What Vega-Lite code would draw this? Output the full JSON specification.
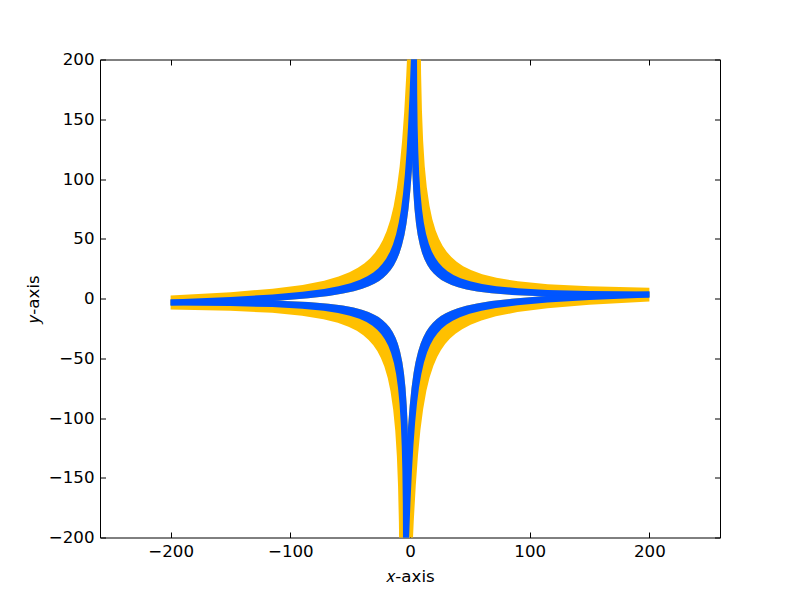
{
  "$schema": "https://vega.github.io/schema/vega-lite/v6.json",
  "width": 620,
  "height": 478,
  "autosize": {"type": "none"},
  "padding": {"left": 100, "top": 59.5, "right": 80, "bottom": 59.5},
  "background": "white",
  "config": {
    "view": {"stroke": null},
    "axis": {
      "grid": false, "domain": true, "domainColor": "black", "domainWidth": 1,
      "tickColor": "black", "tickWidth": 1, "tickSize": -5.5,
      "labelFont": "DejaVu Sans", "labelFontSize": 16.67, "labelColor": "black",
      "titleFont": "DejaVu Sans", "titleFontSize": 16.67, "titleFontWeight": "normal", "titleColor": "black",
      "zindex": 1
    }
  },
  "data": {
    "values": [
      {"p":"URo","x":200,"y":9.1},{"p":"URo","x":150.13,"y":10.21},{"p":"URo","x":115.17,"y":11.98},{"p":"URo","x":90.21,"y":14.37},{"p":"URo","x":72.27,"y":17.3},{"p":"URo","x":60.32,"y":20.32},{"p":"URo","x":51.38,"y":23.59},{"p":"URo","x":44.44,"y":27.09},{"p":"URo","x":39,"y":30.77},{"p":"URo","x":34.56,"y":34.68},{"p":"URo","x":30.64,"y":39.16},{"p":"URo","x":27.22,"y":44.21},{"p":"URo","x":24.31,"y":49.75},{"p":"URo","x":21.43,"y":56.92},{"p":"URo","x":18.59,"y":66.58},{"p":"URo","x":16.28,"y":77.58},{"p":"URo","x":14.03,"y":93.01},{"p":"URo","x":12.32,"y":110.65},{"p":"URo","x":10.97,"y":131.96},{"p":"URo","x":9.99,"y":156.88},{"p":"URo","x":9.29,"y":187.2},{"p":"URo","x":8.94,"y":214.9},{"p":"URo","x":8.75,"y":260.75},
      {"p":"URo","x":1.08,"y":259.71},{"p":"URo","x":0.81,"y":200.82},{"p":"URo","x":0.93,"y":159.52},{"p":"URo","x":1.33,"y":129.19},{"p":"URo","x":1.95,"y":106.34},{"p":"URo","x":2.69,"y":90.12},{"p":"URo","x":3.74,"y":74.95},{"p":"URo","x":5.03,"y":62.51},{"p":"URo","x":6.38,"y":53.41},{"p":"URo","x":8.23,"y":44.5},{"p":"URo","x":10.12,"y":37.94},{"p":"URo","x":12.04,"y":32.92},{"p":"URo","x":14.46,"y":28.08},{"p":"URo","x":16.9,"y":24.35},{"p":"URo","x":19.84,"y":20.85},{"p":"URo","x":22.79,"y":18.11},{"p":"URo","x":26.25,"y":15.58},{"p":"URo","x":30.21,"y":13.31},{"p":"URo","x":34.68,"y":11.31},{"p":"URo","x":40.14,"y":9.42},{"p":"URo","x":47.11,"y":7.62},{"p":"URo","x":56.08,"y":5.94},{"p":"URo","x":68.05,"y":4.39},{"p":"URo","x":85.03,"y":2.99},{"p":"URo","x":110,"y":1.83},{"p":"URo","x":149.98,"y":1.02},{"p":"URo","x":200,"y":0.81},

      {"p":"ULo","x":-200,"y":2.5},{"p":"ULo","x":-149.87,"y":5.26},{"p":"ULo","x":-114.83,"y":8.19},{"p":"ULo","x":-89.79,"y":11.4},{"p":"ULo","x":-71.73,"y":14.92},{"p":"ULo","x":-59.68,"y":18.34},{"p":"ULo","x":-50.62,"y":21.9},{"p":"ULo","x":-43.56,"y":25.64},{"p":"ULo","x":-38,"y":29.5},{"p":"ULo","x":-33.44,"y":33.56},{"p":"ULo","x":-29.36,"y":38.17},{"p":"ULo","x":-25.78,"y":43.34},{"p":"ULo","x":-22.69,"y":48.97},{"p":"ULo","x":-19.57,"y":56.25},{"p":"ULo","x":-16.41,"y":66},{"p":"ULo","x":-13.72,"y":77.09},{"p":"ULo","x":-10.97,"y":92.59},{"p":"ULo","x":-8.68,"y":110.3},{"p":"ULo","x":-6.63,"y":131.67},{"p":"ULo","x":-4.81,"y":156.64},{"p":"ULo","x":-3.11,"y":187},{"p":"ULo","x":-1.86,"y":214.73},{"p":"ULo","x":-0.15,"y":260.6},
      {"p":"ULo","x":7.5,"y":259.81},{"p":"ULo","x":5.81,"y":200.9},{"p":"ULo","x":4.33,"y":159.58},{"p":"ULo","x":2.93,"y":129.21},{"p":"ULo","x":1.55,"y":106.33},{"p":"ULo","x":0.29,"y":90.08},{"p":"ULo","x":-1.26,"y":74.87},{"p":"ULo","x":-2.97,"y":62.38},{"p":"ULo","x":-4.62,"y":53.23},{"p":"ULo","x":-6.77,"y":44.25},{"p":"ULo","x":-8.88,"y":37.63},{"p":"ULo","x":-10.96,"y":32.54},{"p":"ULo","x":-13.54,"y":27.62},{"p":"ULo","x":-16.1,"y":23.8},{"p":"ULo","x":-19.16,"y":20.21},{"p":"ULo","x":-22.21,"y":17.37},{"p":"ULo","x":-25.75,"y":14.72},{"p":"ULo","x":-29.79,"y":12.32},{"p":"ULo","x":-34.32,"y":10.17},{"p":"ULo","x":-39.86,"y":8.1},{"p":"ULo","x":-46.89,"y":6.07},{"p":"ULo","x":-55.92,"y":4.09},{"p":"ULo","x":-67.95,"y":2.15},{"p":"ULo","x":-84.97,"y":0.19},{"p":"ULo","x":-110,"y":-1.8},{"p":"ULo","x":-150.02,"y":-3.93},{"p":"ULo","x":-200,"y":-5.79},

      {"p":"LLo","x":-200,"y":-9.1},{"p":"LLo","x":-150.13,"y":-10.21},{"p":"LLo","x":-115.17,"y":-11.98},{"p":"LLo","x":-90.21,"y":-14.37},{"p":"LLo","x":-72.27,"y":-17.3},{"p":"LLo","x":-60.32,"y":-20.32},{"p":"LLo","x":-51.38,"y":-23.59},{"p":"LLo","x":-44.44,"y":-27.09},{"p":"LLo","x":-39,"y":-30.77},{"p":"LLo","x":-34.56,"y":-34.68},{"p":"LLo","x":-30.64,"y":-39.16},{"p":"LLo","x":-27.22,"y":-44.21},{"p":"LLo","x":-24.31,"y":-49.75},{"p":"LLo","x":-21.43,"y":-56.92},{"p":"LLo","x":-18.59,"y":-66.58},{"p":"LLo","x":-16.28,"y":-77.58},{"p":"LLo","x":-14.03,"y":-93.01},{"p":"LLo","x":-12.32,"y":-110.65},{"p":"LLo","x":-10.97,"y":-131.96},{"p":"LLo","x":-9.99,"y":-156.88},{"p":"LLo","x":-9.29,"y":-187.2},{"p":"LLo","x":-8.94,"y":-214.9},{"p":"LLo","x":-8.75,"y":-260.75},
      {"p":"LLo","x":-1.08,"y":-259.71},{"p":"LLo","x":-0.81,"y":-200.82},{"p":"LLo","x":-0.93,"y":-159.52},{"p":"LLo","x":-1.33,"y":-129.19},{"p":"LLo","x":-1.95,"y":-106.34},{"p":"LLo","x":-2.69,"y":-90.12},{"p":"LLo","x":-3.74,"y":-74.95},{"p":"LLo","x":-5.03,"y":-62.51},{"p":"LLo","x":-6.38,"y":-53.41},{"p":"LLo","x":-8.23,"y":-44.5},{"p":"LLo","x":-10.12,"y":-37.94},{"p":"LLo","x":-12.04,"y":-32.92},{"p":"LLo","x":-14.46,"y":-28.08},{"p":"LLo","x":-16.9,"y":-24.35},{"p":"LLo","x":-19.84,"y":-20.85},{"p":"LLo","x":-22.79,"y":-18.11},{"p":"LLo","x":-26.25,"y":-15.58},{"p":"LLo","x":-30.21,"y":-13.31},{"p":"LLo","x":-34.68,"y":-11.31},{"p":"LLo","x":-40.14,"y":-9.42},{"p":"LLo","x":-47.11,"y":-7.62},{"p":"LLo","x":-56.08,"y":-5.94},{"p":"LLo","x":-68.05,"y":-4.39},{"p":"LLo","x":-85.03,"y":-2.99},{"p":"LLo","x":-110,"y":-1.83},{"p":"LLo","x":-149.98,"y":-1.02},{"p":"LLo","x":-200,"y":-0.81},

      {"p":"LRo","x":200,"y":-2.5},{"p":"LRo","x":149.87,"y":-5.26},{"p":"LRo","x":114.83,"y":-8.19},{"p":"LRo","x":89.79,"y":-11.4},{"p":"LRo","x":71.73,"y":-14.92},{"p":"LRo","x":59.68,"y":-18.34},{"p":"LRo","x":50.62,"y":-21.9},{"p":"LRo","x":43.56,"y":-25.64},{"p":"LRo","x":38,"y":-29.5},{"p":"LRo","x":33.44,"y":-33.56},{"p":"LRo","x":29.36,"y":-38.17},{"p":"LRo","x":25.78,"y":-43.34},{"p":"LRo","x":22.69,"y":-48.97},{"p":"LRo","x":19.57,"y":-56.25},{"p":"LRo","x":16.41,"y":-66},{"p":"LRo","x":13.72,"y":-77.09},{"p":"LRo","x":10.97,"y":-92.59},{"p":"LRo","x":8.68,"y":-110.3},{"p":"LRo","x":6.63,"y":-131.67},{"p":"LRo","x":4.81,"y":-156.64},{"p":"LRo","x":3.11,"y":-187},{"p":"LRo","x":1.86,"y":-214.73},{"p":"LRo","x":0.15,"y":-260.6},
      {"p":"LRo","x":-7.5,"y":-259.81},{"p":"LRo","x":-5.81,"y":-200.9},{"p":"LRo","x":-4.33,"y":-159.58},{"p":"LRo","x":-2.93,"y":-129.21},{"p":"LRo","x":-1.55,"y":-106.33},{"p":"LRo","x":-0.29,"y":-90.08},{"p":"LRo","x":1.26,"y":-74.87},{"p":"LRo","x":2.97,"y":-62.38},{"p":"LRo","x":4.62,"y":-53.23},{"p":"LRo","x":6.77,"y":-44.25},{"p":"LRo","x":8.88,"y":-37.63},{"p":"LRo","x":10.96,"y":-32.54},{"p":"LRo","x":13.54,"y":-27.62},{"p":"LRo","x":16.1,"y":-23.8},{"p":"LRo","x":19.16,"y":-20.21},{"p":"LRo","x":22.21,"y":-17.37},{"p":"LRo","x":25.75,"y":-14.72},{"p":"LRo","x":29.79,"y":-12.32},{"p":"LRo","x":34.32,"y":-10.17},{"p":"LRo","x":39.86,"y":-8.1},{"p":"LRo","x":46.89,"y":-6.07},{"p":"LRo","x":55.92,"y":-4.09},{"p":"LRo","x":67.95,"y":-2.15},{"p":"LRo","x":84.97,"y":-0.19},{"p":"LRo","x":110,"y":1.8},{"p":"LRo","x":150.02,"y":3.93},{"p":"LRo","x":200,"y":5.79},

      {"p":"URb","x":200,"y":5.86},{"p":"URb","x":150.06,"y":6.28},{"p":"URb","x":115.09,"y":7.21},{"p":"URb","x":90.12,"y":8.59},{"p":"URb","x":72.15,"y":10.33},{"p":"URb","x":60.18,"y":12.16},{"p":"URb","x":50.22,"y":14.41},{"p":"URb","x":42.27,"y":17.02},{"p":"URb","x":36.32,"y":19.74},{"p":"URb","x":31.37,"y":22.82},{"p":"URb","x":27.42,"y":26.09},{"p":"URb","x":23.99,"y":29.84},{"p":"URb","x":21.06,"y":34.02},{"p":"URb","x":18.15,"y":39.57},{"p":"URb","x":15.75,"y":45.78},{"p":"URb","x":13.39,"y":54.26},{"p":"URb","x":11.55,"y":63.67},{"p":"URb","x":10.03,"y":74.65},{"p":"URb","x":8.75,"y":87.98},{"p":"URb","x":7.71,"y":104.04},{"p":"URb","x":6.93,"y":122.98},{"p":"URb","x":6.38,"y":144.44},{"p":"URb","x":6.02,"y":170.9},{"p":"URb","x":5.86,"y":203.44},{"p":"URb","x":5.99,"y":259.86},
      {"p":"URb","x":1.08,"y":259.71},{"p":"URb","x":0.81,"y":200.82},{"p":"URb","x":0.93,"y":159.52},{"p":"URb","x":1.33,"y":129.19},{"p":"URb","x":1.95,"y":106.34},{"p":"URb","x":2.69,"y":90.12},{"p":"URb","x":3.74,"y":74.95},{"p":"URb","x":5.03,"y":62.51},{"p":"URb","x":6.38,"y":53.41},{"p":"URb","x":8.23,"y":44.5},{"p":"URb","x":10.12,"y":37.94},{"p":"URb","x":12.04,"y":32.92},{"p":"URb","x":14.46,"y":28.08},{"p":"URb","x":16.9,"y":24.35},{"p":"URb","x":19.84,"y":20.85},{"p":"URb","x":22.79,"y":18.11},{"p":"URb","x":26.25,"y":15.58},{"p":"URb","x":30.21,"y":13.31},{"p":"URb","x":34.68,"y":11.31},{"p":"URb","x":40.14,"y":9.42},{"p":"URb","x":47.11,"y":7.62},{"p":"URb","x":56.08,"y":5.94},{"p":"URb","x":68.05,"y":4.39},{"p":"URb","x":85.03,"y":2.99},{"p":"URb","x":110,"y":1.83},{"p":"URb","x":149.98,"y":1.02},{"p":"URb","x":200,"y":0.81},

      {"p":"ULb","x":-200,"y":-0.74},{"p":"ULb","x":-149.94,"y":1.33},{"p":"ULb","x":-114.91,"y":3.42},{"p":"ULb","x":-89.88,"y":5.62},{"p":"ULb","x":-71.85,"y":7.95},{"p":"ULb","x":-59.82,"y":10.18},{"p":"ULb","x":-49.78,"y":12.76},{"p":"ULb","x":-41.73,"y":15.63},{"p":"ULb","x":-35.68,"y":18.56},{"p":"ULb","x":-30.63,"y":21.8},{"p":"ULb","x":-26.58,"y":25.2},{"p":"ULb","x":-23.01,"y":29.06},{"p":"ULb","x":-19.94,"y":33.35},{"p":"ULb","x":-16.85,"y":38.99},{"p":"ULb","x":-14.25,"y":45.28},{"p":"ULb","x":-11.61,"y":53.85},{"p":"ULb","x":-9.45,"y":63.33},{"p":"ULb","x":-7.57,"y":74.36},{"p":"ULb","x":-5.85,"y":87.74},{"p":"ULb","x":-4.29,"y":103.84},{"p":"ULb","x":-2.87,"y":122.82},{"p":"ULb","x":-1.62,"y":144.31},{"p":"ULb","x":-0.38,"y":170.79},{"p":"ULb","x":0.86,"y":203.35},{"p":"ULb","x":2.59,"y":259.81},
      {"p":"ULb","x":7.5,"y":259.81},{"p":"ULb","x":5.81,"y":200.9},{"p":"ULb","x":4.33,"y":159.58},{"p":"ULb","x":2.93,"y":129.21},{"p":"ULb","x":1.55,"y":106.33},{"p":"ULb","x":0.29,"y":90.08},{"p":"ULb","x":-1.26,"y":74.87},{"p":"ULb","x":-2.97,"y":62.38},{"p":"ULb","x":-4.62,"y":53.23},{"p":"ULb","x":-6.77,"y":44.25},{"p":"ULb","x":-8.88,"y":37.63},{"p":"ULb","x":-10.96,"y":32.54},{"p":"ULb","x":-13.54,"y":27.62},{"p":"ULb","x":-16.1,"y":23.8},{"p":"ULb","x":-19.16,"y":20.21},{"p":"ULb","x":-22.21,"y":17.37},{"p":"ULb","x":-25.75,"y":14.72},{"p":"ULb","x":-29.79,"y":12.32},{"p":"ULb","x":-34.32,"y":10.17},{"p":"ULb","x":-39.86,"y":8.1},{"p":"ULb","x":-46.89,"y":6.07},{"p":"ULb","x":-55.92,"y":4.09},{"p":"ULb","x":-67.95,"y":2.15},{"p":"ULb","x":-84.97,"y":0.19},{"p":"ULb","x":-110,"y":-1.8},{"p":"ULb","x":-150.02,"y":-3.93},{"p":"ULb","x":-200,"y":-5.79},

      {"p":"LLb","x":-200,"y":-5.86},{"p":"LLb","x":-150.06,"y":-6.28},{"p":"LLb","x":-115.09,"y":-7.21},{"p":"LLb","x":-90.12,"y":-8.59},{"p":"LLb","x":-72.15,"y":-10.33},{"p":"LLb","x":-60.18,"y":-12.16},{"p":"LLb","x":-50.22,"y":-14.41},{"p":"LLb","x":-42.27,"y":-17.02},{"p":"LLb","x":-36.32,"y":-19.74},{"p":"LLb","x":-31.37,"y":-22.82},{"p":"LLb","x":-27.42,"y":-26.09},{"p":"LLb","x":-23.99,"y":-29.84},{"p":"LLb","x":-21.06,"y":-34.02},{"p":"LLb","x":-18.15,"y":-39.57},{"p":"LLb","x":-15.75,"y":-45.78},{"p":"LLb","x":-13.39,"y":-54.26},{"p":"LLb","x":-11.55,"y":-63.67},{"p":"LLb","x":-10.03,"y":-74.65},{"p":"LLb","x":-8.75,"y":-87.98},{"p":"LLb","x":-7.71,"y":-104.04},{"p":"LLb","x":-6.93,"y":-122.98},{"p":"LLb","x":-6.38,"y":-144.44},{"p":"LLb","x":-6.02,"y":-170.9},{"p":"LLb","x":-5.86,"y":-203.44},{"p":"LLb","x":-5.99,"y":-259.86},
      {"p":"LLb","x":-1.08,"y":-259.71},{"p":"LLb","x":-0.81,"y":-200.82},{"p":"LLb","x":-0.93,"y":-159.52},{"p":"LLb","x":-1.33,"y":-129.19},{"p":"LLb","x":-1.95,"y":-106.34},{"p":"LLb","x":-2.69,"y":-90.12},{"p":"LLb","x":-3.74,"y":-74.95},{"p":"LLb","x":-5.03,"y":-62.51},{"p":"LLb","x":-6.38,"y":-53.41},{"p":"LLb","x":-8.23,"y":-44.5},{"p":"LLb","x":-10.12,"y":-37.94},{"p":"LLb","x":-12.04,"y":-32.92},{"p":"LLb","x":-14.46,"y":-28.08},{"p":"LLb","x":-16.9,"y":-24.35},{"p":"LLb","x":-19.84,"y":-20.85},{"p":"LLb","x":-22.79,"y":-18.11},{"p":"LLb","x":-26.25,"y":-15.58},{"p":"LLb","x":-30.21,"y":-13.31},{"p":"LLb","x":-34.68,"y":-11.31},{"p":"LLb","x":-40.14,"y":-9.42},{"p":"LLb","x":-47.11,"y":-7.62},{"p":"LLb","x":-56.08,"y":-5.94},{"p":"LLb","x":-68.05,"y":-4.39},{"p":"LLb","x":-85.03,"y":-2.99},{"p":"LLb","x":-110,"y":-1.83},{"p":"LLb","x":-149.98,"y":-1.02},{"p":"LLb","x":-200,"y":-0.81},

      {"p":"LRb","x":200,"y":0.74},{"p":"LRb","x":149.94,"y":-1.33},{"p":"LRb","x":114.91,"y":-3.42},{"p":"LRb","x":89.88,"y":-5.62},{"p":"LRb","x":71.85,"y":-7.95},{"p":"LRb","x":59.82,"y":-10.18},{"p":"LRb","x":49.78,"y":-12.76},{"p":"LRb","x":41.73,"y":-15.63},{"p":"LRb","x":35.68,"y":-18.56},{"p":"LRb","x":30.63,"y":-21.8},{"p":"LRb","x":26.58,"y":-25.2},{"p":"LRb","x":23.01,"y":-29.06},{"p":"LRb","x":19.94,"y":-33.35},{"p":"LRb","x":16.85,"y":-38.99},{"p":"LRb","x":14.25,"y":-45.28},{"p":"LRb","x":11.61,"y":-53.85},{"p":"LRb","x":9.45,"y":-63.33},{"p":"LRb","x":7.57,"y":-74.36},{"p":"LRb","x":5.85,"y":-87.74},{"p":"LRb","x":4.29,"y":-103.84},{"p":"LRb","x":2.87,"y":-122.82},{"p":"LRb","x":1.62,"y":-144.31},{"p":"LRb","x":0.38,"y":-170.79},{"p":"LRb","x":-0.86,"y":-203.35},{"p":"LRb","x":-2.59,"y":-259.81},
      {"p":"LRb","x":-7.5,"y":-259.81},{"p":"LRb","x":-5.81,"y":-200.9},{"p":"LRb","x":-4.33,"y":-159.58},{"p":"LRb","x":-2.93,"y":-129.21},{"p":"LRb","x":-1.55,"y":-106.33},{"p":"LRb","x":-0.29,"y":-90.08},{"p":"LRb","x":1.26,"y":-74.87},{"p":"LRb","x":2.97,"y":-62.38},{"p":"LRb","x":4.62,"y":-53.23},{"p":"LRb","x":6.77,"y":-44.25},{"p":"LRb","x":8.88,"y":-37.63},{"p":"LRb","x":10.96,"y":-32.54},{"p":"LRb","x":13.54,"y":-27.62},{"p":"LRb","x":16.1,"y":-23.8},{"p":"LRb","x":19.16,"y":-20.21},{"p":"LRb","x":22.21,"y":-17.37},{"p":"LRb","x":25.75,"y":-14.72},{"p":"LRb","x":29.79,"y":-12.32},{"p":"LRb","x":34.32,"y":-10.17},{"p":"LRb","x":39.86,"y":-8.1},{"p":"LRb","x":46.89,"y":-6.07},{"p":"LRb","x":55.92,"y":-4.09},{"p":"LRb","x":67.95,"y":-2.15},{"p":"LRb","x":84.97,"y":-0.19},{"p":"LRb","x":110,"y":1.8},{"p":"LRb","x":150.02,"y":3.93},{"p":"LRb","x":200,"y":5.79}
    ]
  },
  "resolve": {"axis": {"x": "independent", "y": "independent"}},
  "layer": [
    {
      "transform": [{"filter": {"field": "p", "oneOf": ["URo", "ULo", "LLo", "LRo"]}}],
      "mark": {"type": "line", "fill": "#ffc000", "stroke": "#ffc000", "strokeWidth": 0, "clip": true},
      "encoding": {
        "x": {"field": "x", "type": "quantitative", "scale": {"domain": [-259, 259], "nice": false, "zero": false},
              "axis": {"orient": "bottom", "values": [-200, -100, 0, 100, 200], "format": "d", "labelPadding": 11, "title": "\ud835\udc65-axis", "titlePadding": 9}},
        "y": {"field": "y", "type": "quantitative", "scale": {"domain": [-200, 200], "nice": false, "zero": false},
              "axis": {"orient": "left", "values": [-200, -150, -100, -50, 0, 50, 100, 150, 200], "format": "d", "labelPadding": 11.5, "title": "\ud835\udc66-axis", "titlePadding": 6}},
        "detail": {"field": "p"},
        "order": {"value": null}
      }
    },
    {
      "transform": [{"filter": {"field": "p", "oneOf": ["URb", "ULb", "LLb", "LRb"]}}],
      "mark": {"type": "line", "fill": "#0055ff", "stroke": "#0055ff", "strokeWidth": 0, "clip": true},
      "encoding": {
        "x": {"field": "x", "type": "quantitative",
              "axis": {"orient": "top", "values": [-200, -100, 0, 100, 200], "labels": false, "title": null}},
        "y": {"field": "y", "type": "quantitative",
              "axis": {"orient": "right", "values": [-200, -150, -100, -50, 0, 50, 100, 150, 200], "labels": false, "title": null}},
        "detail": {"field": "p"},
        "order": {"value": null}
      }
    }
  ]
}
